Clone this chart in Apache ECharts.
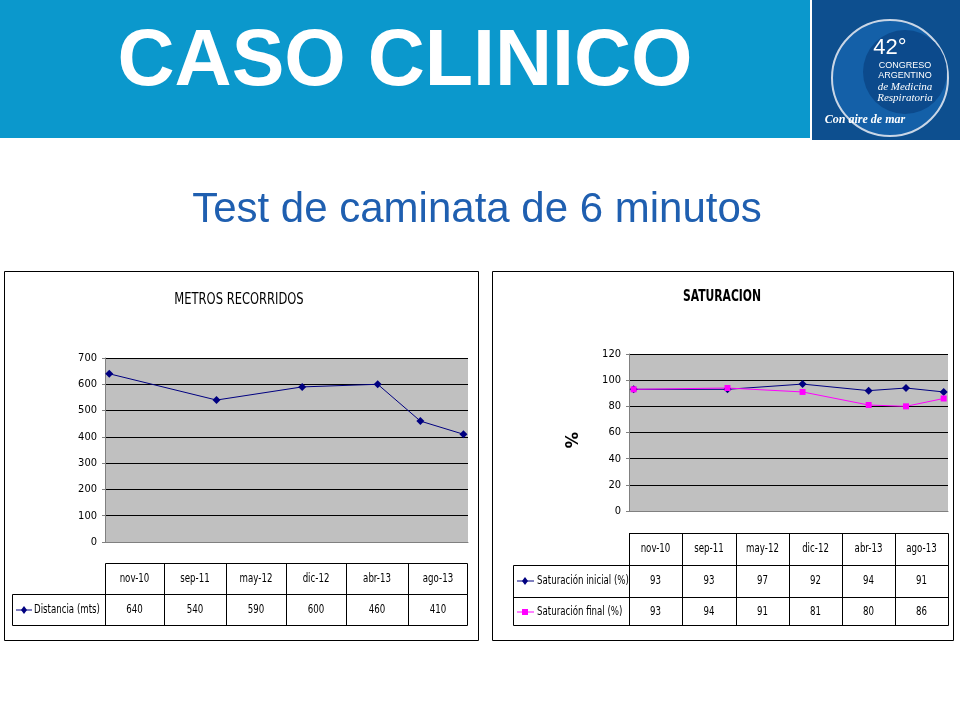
<!DOCTYPE html>
<html><head><meta charset="utf-8">
<script src="https://cdn.jsdelivr.net/npm/echarts@6/dist/echarts.min.js"></script>
<style>html,body{margin:0;padding:0;background:#fff}#c{width:960px;height:720px}</style>
</head><body><div id="c"></div>
<script>
const categories = ['nov-10','sep-11','may-12','dic-12','abr-13','ago-13'];
const dates = ['2010-11-01','2011-09-01','2012-05-01','2012-12-01','2013-04-01','2013-08-01'];
const distancia = [640,540,590,600,460,410];
const satInicial = [93,93,97,92,94,91];
const satFinal = [93,94,91,81,80,86];
const leftTicks = [0,100,200,300,400,500,600,700];
const rightTicks = [0,20,40,60,80,100,120];

const NF = '"Liberation Sans Narrow","DejaVu Sans Condensed",Arial,sans-serif';
const chart = echarts.init(document.getElementById('c'));
const g = [];
function rect(x,y,w,h,fill,stroke,lw){g.push({type:'rect',shape:{x,y,width:w,height:h},style:{fill:fill||'none',stroke:stroke||null,lineWidth:lw||1},silent:true});}
function text(x,y,t,opt,sx){g.push({type:'text',x,y,scaleX:sx||1,style:Object.assign({text:t,fill:'#000',font:'12px '+NF,align:'center',verticalAlign:'middle'},opt||{}),silent:true});}
function ntext(x,y,t,opt){text(x,y,t,opt,0.8);}
function line(x1,y1,x2,y2,c,w){g.push({type:'line',shape:{x1,y1,x2,y2},style:{stroke:c||'#000',lineWidth:w||1},silent:true});}
function diamond(cx,cy,c){g.push({type:'polygon',shape:{points:[[cx,cy-4],[cx+3,cy],[cx,cy+4],[cx-3,cy]]},style:{fill:c},silent:true});}

// header
rect(0,0,810,138,'#0b98cc');
text(405,63,'CASO CLINICO',{fill:'#fff',font:'bold 79px Arial, "Liberation Sans", sans-serif'});
rect(812,0,148,140,'#0d4f8f');
g.push({type:'circle',shape:{cx:890,cy:78,r:58},style:{fill:'#1460a8',stroke:'#c9d6e6',lineWidth:2},silent:true});
g.push({type:'circle',shape:{cx:905,cy:72,r:42},style:{fill:'#0c4a8c'},silent:true});
text(890,48,'42°',{fill:'#fff',font:'22px Arial',align:'center'});
text(905,66,'CONGRESO',{fill:'#fff',font:'9px Arial'});
text(905,76,'ARGENTINO',{fill:'#fff',font:'9px Arial'});
text(905,87,'de Medicina',{fill:'#fff',font:'italic 11px "Liberation Serif",serif'});
text(905,98,'Respiratoria',{fill:'#fff',font:'italic 11px "Liberation Serif",serif'});
text(865,120,'Con aire de mar',{fill:'#fff',font:'bold italic 12px "Liberation Serif",serif'});
text(477,210,'Test de caminata de 6 minutos',{fill:'#1f5fb0',font:'42px Arial, "Liberation Sans", sans-serif'});

// frames
rect(4.5,271.5,474,369,null,'#000');
rect(492.5,271.5,461,369,null,'#000');
ntext(239,300,'METROS RECORRIDOS',{font:'16px '+NF});
ntext(722,297,'SATURACION',{font:'bold 15px '+NF});
g.push({type:'text',x:570,y:440,rotation:-Math.PI/2,style:{text:'%',font:'bold 18px '+NF,fill:'#000',align:'center',verticalAlign:'middle'},silent:true});

// left table
const lc=[105,164,226,286,346,408,468];
rect(105.5,563.5,362,31,null,'#000');
rect(12.5,594.5,455,31,null,'#000');
for(let i=1;i<6;i++) line(lc[i]+.5,563,lc[i]+.5,625);
line(105.5,594,105.5,625);
categories.forEach((c,i)=>{const cx=(lc[i]+lc[i+1])/2;ntext(cx,579,c);ntext(cx,610,String(distancia[i]));});
line(16,610,32,610,'#000080');
diamond(24,610,'#000080');
ntext(34,610,'Distancia (mts)',{align:'left'});

// right table
const rc=[629,682,736,789,842,895,948];
rect(629.5,533.5,319,32,null,'#000');
rect(513.5,565.5,435,60,null,'#000');
line(513,597.5,948,597.5);
for(let i=0;i<6;i++) line(rc[i]+.5,533,rc[i]+.5,625);
categories.forEach((c,i)=>{const cx=(rc[i]+rc[i+1])/2;ntext(cx,549,c);ntext(cx,581,String(satInicial[i]));ntext(cx,612,String(satFinal[i]));});
line(517,581,534,581,'#000080');
diamond(525,581,'#000080');
ntext(537,581,'Saturación inicial (%)',{align:'left'});
line(517,612,534,612,'#ff00ff');
rect(522,609,6,6,'#ff00ff');
ntext(537,612,'Saturación final (%)',{align:'left'});

const lineTicks = {fontFamily:NF,fontSize:11,color:'#000'};
chart.setOption({
  animation:false,
  grid:[
    {left:105,top:358,width:363,height:184,backgroundColor:'#c0c0c0',show:true,borderWidth:0},
    {left:629,top:354,width:319,height:157,backgroundColor:'#c0c0c0',show:true,borderWidth:0}
  ],
  xAxis:[
    {type:'time',gridIndex:0,min:'2010-10-20',max:'2013-08-14',axisLabel:{show:false},axisTick:{show:false},splitLine:{show:false},axisLine:{lineStyle:{color:'#808080'}}},
    {type:'time',gridIndex:1,min:'2010-10-17',max:'2013-08-15',axisLabel:{show:false},axisTick:{show:false},splitLine:{show:false},axisLine:{lineStyle:{color:'#808080'}}}
  ],
  yAxis:[
    {type:'value',gridIndex:0,min:0,max:700,interval:100,axisLabel:Object.assign({formatter:v=>leftTicks.includes(v)?String(v):''},lineTicks),axisLine:{show:true,lineStyle:{color:'#808080'}},axisTick:{show:true,length:3},splitLine:{lineStyle:{color:'#000'}}},
    {type:'value',gridIndex:1,min:0,max:120,interval:20,axisLabel:Object.assign({formatter:v=>rightTicks.includes(v)?String(v):''},lineTicks),axisLine:{show:true,lineStyle:{color:'#808080'}},axisTick:{show:true,length:3},splitLine:{lineStyle:{color:'#000'}}}
  ],
  series:[
    {type:'line',xAxisIndex:0,yAxisIndex:0,data:dates.map((d,i)=>[d,distancia[i]]),symbol:'diamond',symbolSize:8,lineStyle:{color:'#000080',width:1},itemStyle:{color:'#000080'}},
    {type:'line',xAxisIndex:1,yAxisIndex:1,data:dates.map((d,i)=>[d,satInicial[i]]),symbol:'diamond',symbolSize:8,lineStyle:{color:'#000080',width:1},itemStyle:{color:'#000080'}},
    {type:'line',xAxisIndex:1,yAxisIndex:1,data:dates.map((d,i)=>[d,satFinal[i]]),symbol:'rect',symbolSize:6,lineStyle:{color:'#ff00ff',width:1},itemStyle:{color:'#ff00ff'}}
  ],
  graphic:{elements:g}
});
</script></body></html>
